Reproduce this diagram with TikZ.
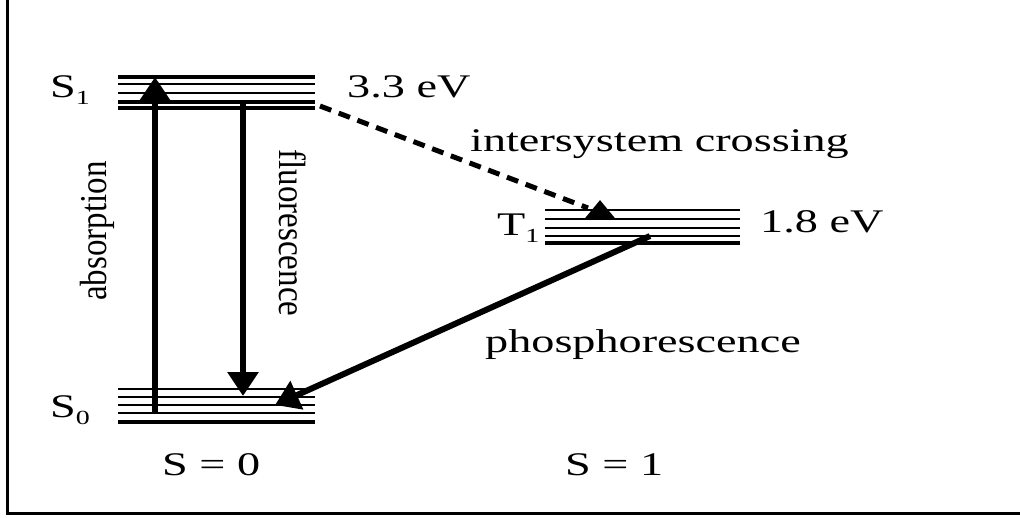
\documentclass[tikz,border=0pt]{standalone}
\usepackage{fontspec}
\setmainfont{Liberation Serif}
\usetikzlibrary{arrows.meta, positioning}
\newcommand{\wtxt}[1]{\scalebox{1.4}[1]{#1}}
\newcommand{\vtxt}[1]{\scalebox{1}[1.15]{#1}}
\newcommand{\lsub}[1]{\raisebox{-7pt}{\fontsize{20}{20}\selectfont #1}}

\begin{document}
\begin{tikzpicture}[x=1pt, y=-1pt,
  lvl/.style={line width=2pt},
  lvlbase/.style={line width=3.5pt},
  trans/.style={line width=6pt, -{Triangle[length=24pt, width=30pt]}},
  isc/.style={line width=5pt, dash pattern=on 12pt off 8pt,
              -{Triangle[length=19pt, width=30pt]}},
  lbl/.style={font=\fontsize{33}{36}\selectfont, inner sep=0pt, anchor=base west},
  vlbl/.style={font=\fontsize{33}{36}\selectfont, inner sep=0pt},
]
\useasboundingbox (0,0) rectangle (1020,517);
% frame
\draw[line width=3pt] (7,0) -- (7,513) -- (1020,513);

% levels
\foreach \y in {84,93} \draw[lvl] (118,\y) -- (315,\y);
\foreach \y in {77,102,108} \draw[lvlbase] (118,\y) -- (315,\y);
\foreach \y in {389,397,405,413} \draw[lvl] (118,\y) -- (315,\y);
\draw[line width=4pt] (118,422) -- (315,422);
\foreach \y in {210,219,228,236} \draw[lvl] (545,\y) -- (740,\y);
\draw[lvlbase] (545,243) -- (740,243);

% end points
\coordinate (absA)  at (155,413);
\coordinate (absB)  at (155,77);
\coordinate (fluA)  at (243,104);
\coordinate (fluB)  at (243,396);
\coordinate (iscA)  at (320,106);
\coordinate (iscK)  at (588,208);
\coordinate (iscH)  at (600,219);
\coordinate (iscB)  at (600,200);
\coordinate (phoA)  at (650,236);
\coordinate (phoB)  at (275,405);

% transitions
\draw[trans] (absA) -- (absB);
\draw[trans] (fluA) -- (fluB);
\draw[trans] (phoA) -- (phoB);
\draw[isc] (iscA) -- (iscK) (iscH) -- (iscB);

% labels
\node[lbl] (s1lab)  at (50,97)   {\wtxt{S\lsub{1}}};
\node[lbl] (s0lab)  at (50,417)  {\wtxt{S\lsub{0}}};
\node[lbl] (t1lab)  at (497,235) {\wtxt{T\lsub{1}}};
\node[lbl] (e33)    at (347,97)  {\wtxt{3.3 eV}};
\node[lbl] (e18)    at (760,232) {\wtxt{1.8 eV}};
\node[lbl] (isclab) at (470,151) {\wtxt{intersystem crossing}};
\node[lbl] (pholab) at (485,352) {\wtxt{phosphorescence}};
\node[lbl] (spin0)  at (162,475) {\wtxt{S = 0}};
\node[lbl] (spin1)  at (565,475) {\wtxt{S = 1}};
\node[vlbl, rotate=90]  (abslab) at (97,231)  {\vtxt{absorption}};
\node[vlbl, rotate=-90] (flulab) at (293,233) {\vtxt{fluorescence}};
\end{tikzpicture}
\end{document}
